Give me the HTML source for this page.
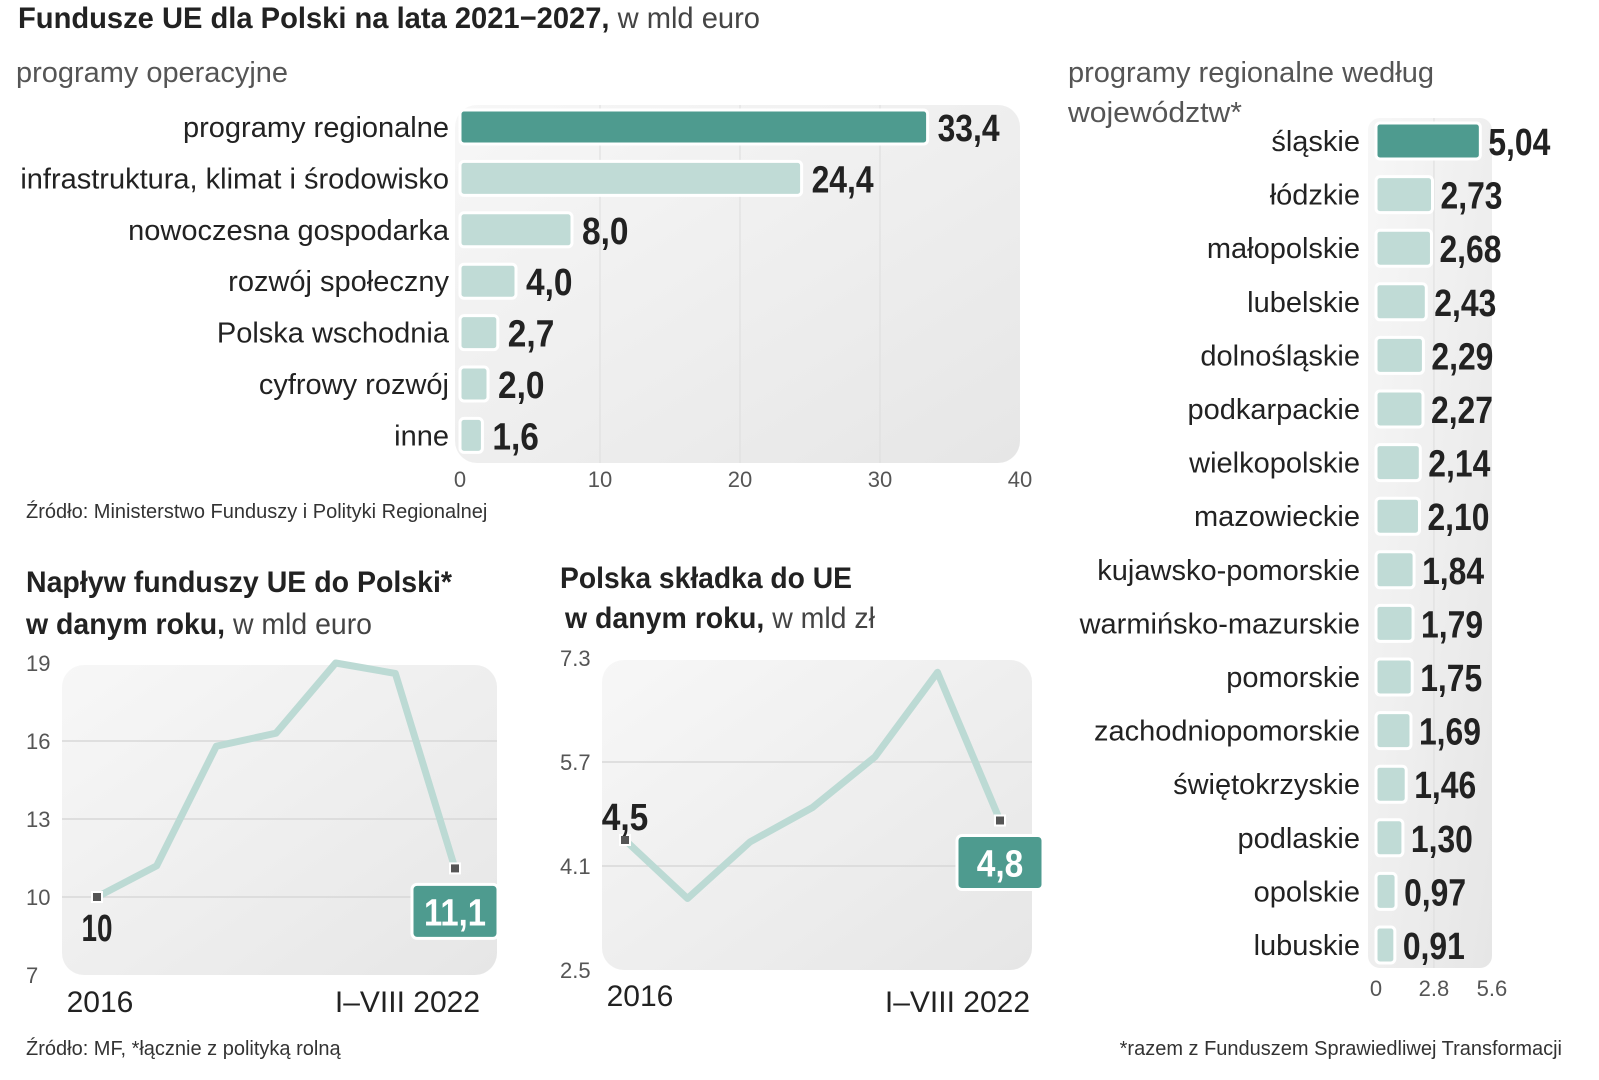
<!DOCTYPE html>
<html><head><meta charset="utf-8"><style>
html,body{margin:0;padding:0;background:#fff;width:1599px;height:1080px;overflow:hidden}
svg{display:block;font-family:"Liberation Sans",sans-serif}
.lbl{font-size:29px;fill:#222}
.val{font-family:"Liberation Sans Narrow","Liberation Sans",sans-serif;font-weight:bold;font-size:38px;fill:#222}
.tick{font-size:22px;fill:#555}
.ttl{font-family:"Liberation Sans Narrow","Liberation Sans",sans-serif;font-size:30px;fill:#222}
</style></head><body>
<svg id="s" width="1599" height="1080" viewBox="0 0 1599 1080" xmlns="http://www.w3.org/2000/svg">
<defs>
<linearGradient id="pg" x1="0" y1="0" x2="1" y2="1"><stop offset="0" stop-color="#f7f7f7"/><stop offset="1" stop-color="#e6e6e6"/></linearGradient>
</defs>
<text x="18" y="28" class="ttl" textLength="742" lengthAdjust="spacingAndGlyphs"><tspan font-weight="bold">Fundusze UE dla Polski na lata 2021−2027,</tspan><tspan fill="#444"> w mld euro</tspan></text>
<text x="16" y="82" font-size="29" fill="#555" textLength="272" lengthAdjust="spacingAndGlyphs">programy operacyjne</text>
<text x="1068" y="82" font-size="29" fill="#555" textLength="366" lengthAdjust="spacingAndGlyphs">programy regionalne według</text>
<text x="1068" y="122" font-size="29" fill="#555" textLength="174" lengthAdjust="spacingAndGlyphs">województw*</text>
<text x="26" y="518" font-size="20" fill="#333">Źródło: Ministerstwo Funduszy i Polityki Regionalnej</text>
<text x="26" y="592" class="ttl" font-weight="bold" textLength="426" lengthAdjust="spacingAndGlyphs">Napływ funduszy UE do Polski*</text>
<text x="26" y="634" class="ttl" textLength="346" lengthAdjust="spacingAndGlyphs"><tspan font-weight="bold">w danym roku,</tspan><tspan fill="#444"> w mld euro</tspan></text>
<text x="560" y="588" class="ttl" font-weight="bold" textLength="292" lengthAdjust="spacingAndGlyphs">Polska składka do UE</text>
<text x="565" y="628" class="ttl" textLength="310" lengthAdjust="spacingAndGlyphs"><tspan font-weight="bold">w danym roku,</tspan><tspan fill="#444"> w mld zł</tspan></text>
<text x="26" y="1055" font-size="20" fill="#333">Źródło: MF, *łącznie z polityką rolną</text>
<text x="1562" y="1055" font-size="20" fill="#333" text-anchor="end">*razem z Funduszem Sprawiedliwej Transformacji</text>
<g id="g1"></g><g id="g2"></g><g id="g3"></g><g id="g4"></g>
</svg>
<script>
const NS="http://www.w3.org/2000/svg";
function mk(p,t,a,txt){const e=document.createElementNS(NS,t);for(const k in a)e.setAttribute(k,a[k]);if(txt!==undefined)e.textContent=txt;p.appendChild(e);return e;}
const fmt=v=>v.toFixed(1).replace('.',',');
function vlen(s){return s.length*15.5;}

// Chart 1 data
const opCats=["programy regionalne","infrastruktura, klimat i środowisko","nowoczesna gospodarka","rozwój społeczny","Polska wschodnia","cyfrowy rozwój","inne"];
const opVals=[33.4,24.4,8.0,4.0,2.7,2.0,1.6];
const opTicks=[0,10,20,30,40];

// Chart 2 data
const regCats=["śląskie","łódzkie","małopolskie","lubelskie","dolnośląskie","podkarpackie","wielkopolskie","mazowieckie","kujawsko-pomorskie","warmińsko-mazurskie","pomorskie","zachodniopomorskie","świętokrzyskie","podlaskie","opolskie","lubuskie"];
const regVals=[5.04,2.73,2.68,2.43,2.29,2.27,2.14,2.10,1.84,1.79,1.75,1.69,1.46,1.30,0.97,0.91];
const regTicks=[0,2.8,5.6];

// Chart 3 data
const inYears=[2016,2017,2018,2019,2020,2021,2022];
const inVals=[10,11.2,15.8,16.3,19.0,18.6,11.1];
const inTicks=[7,10,13,16,19];

// Chart 4 data
const ctYears=[2016,2017,2018,2019,2020,2021,2022];
const ctVals=[4.5,3.6,4.47,5.0,5.78,7.08,4.8];
const ctTicks=[2.5,4.1,5.7,7.3];

// ---- Chart 1
(function(){
const g=document.getElementById('g1');
const x=v=>460+v*14; const y=i=>127+i*51.4;
const bg=mk(g,'rect',{x:455,y:105,width:565,height:358,rx:22,fill:'url(#pg)'});

opTicks.forEach(t=>{
 if(t>0&&t<40){const l=mk(g,'line',{x1:x(t),x2:x(t),y1:105,y2:463,stroke:'#ddd','stroke-width':1});}
 const tx=mk(g,'text',{x:x(t),y:487,'text-anchor':'middle',class:'tick'},String(t));
 
});
opCats.forEach((c,i)=>{
 const r=mk(g,'rect',{x:x(0),y:y(i)-17,width:x(opVals[i])-x(0),height:34,rx:4,fill:i==0?'#4e9b8f':'#c0dbd6',stroke:'#fff','stroke-width':3});
 
 const l=mk(g,'text',{x:449,y:y(i)+10,'text-anchor':'end',class:'lbl'},c);
 
 const s=fmt(opVals[i]);
 const v=mk(g,'text',{x:x(opVals[i])+10,y:y(i)+14,class:'val',textLength:vlen(s),lengthAdjust:'spacingAndGlyphs'},s);
 
});
})();

// ---- Chart 2
(function(){
const g=document.getElementById('g2');
const x=v=>1376+v*20.7; const y=i=>141+i*53.6;
const bg=mk(g,'rect',{x:1368,y:118,width:124,height:850,rx:12,fill:'url(#pg)'});

const gl=mk(g,'line',{x1:x(2.8),x2:x(2.8),y1:118,y2:968,stroke:'#ddd'});

regTicks.forEach(t=>{
 const tx=mk(g,'text',{x:x(t),y:996,'text-anchor':'middle',class:'tick'},String(t));
 
});
regCats.forEach((c,i)=>{
 const r=mk(g,'rect',{x:x(0),y:y(i)-18,width:x(regVals[i])-x(0),height:36,rx:4,fill:i==0?'#4e9b8f':'#c0dbd6',stroke:'#fff','stroke-width':3});
 
 const l=mk(g,'text',{x:1360,y:y(i)+10,'text-anchor':'end',class:'lbl'},c);
 
 const s=regVals[i].toFixed(2).replace('.',',');
 const v=mk(g,'text',{x:x(regVals[i])+8,y:y(i)+14,class:'val',textLength:vlen(s),lengthAdjust:'spacingAndGlyphs'},s);
 
});
})();

function lineChart(gid,years,vals,ticks,px0,px1,x0,x1,ymin,ymax,yTop,yBot,tickX,pre,firstLbl,lastLbl,fx,fy,lx,ly){
 const g=document.getElementById(gid);
 const x=i=>x0+i*(x1-x0)/(years.length-1);
 const y=v=>yBot-(v-ymin)*(yBot-yTop)/(ymax-ymin);
 const bg=mk(g,'rect',{x:px0,y:y(ymax)+2,width:px1-px0,height:yBot-y(ymax)-2,rx:22,fill:'url(#pg)'});
 
 ticks.forEach(t=>{
  if(t>ymin&&t<ymax){const l=mk(g,'line',{x1:px0,x2:px1,y1:y(t),y2:y(t),stroke:'#d8d8d8','stroke-width':1.5});}
  const tx=mk(g,'text',{x:tickX,y:y(t)+8,class:'tick'},String(t));
  
 });
 const pl=mk(g,'polyline',{points:vals.map((v,i)=>x(i)+','+y(v)).join(' '),fill:'none',stroke:'#bcdad4','stroke-width':7,'stroke-linejoin':'round'});
 
 [0,vals.length-1].forEach(i=>{
  const m=mk(g,'rect',{x:x(i)-5,y:y(vals[i])-5,width:10,height:10,fill:'#555',stroke:'#fff','stroke-width':2});
  
 });
 const s1=firstLbl(vals[0]);
 const a=mk(g,'text',{x:x(0)+fx,y:y(vals[0])+fy,class:'val','text-anchor':'middle',textLength:vlen(s1),lengthAdjust:'spacingAndGlyphs'},s1);
 
 const n=vals.length-1;
 const bx=mk(g,'rect',{x:x(n)+lx-43,y:y(vals[n])+ly-27,width:86,height:54,rx:5,fill:'#4e9b8f',stroke:'#fff','stroke-width':3});
 
 const s2=lastLbl(vals[n]);
 const b=mk(g,'text',{x:x(n)+lx,y:y(vals[n])+ly+14,class:'val','text-anchor':'middle',style:'fill:#fff',textLength:vlen(s2),lengthAdjust:'spacingAndGlyphs'},s2);
 
}
function xl(g,pre,x,y,t,anchor){const e=mk(g,'text',{x:x,y:y,'text-anchor':anchor,'font-size':30,fill:'#222'},t);}
lineChart('g3',inYears,inVals,inTicks,62,497,97,455,7,19,663,975,26,'inflow',v=>String(v),v=>fmt(v),0,44,0,43);
xl(document.getElementById('g3'),'inflow-x-label-start',100,1012,'2016','middle');
xl(document.getElementById('g3'),'inflow-x-label-end',480,1012,'I–VIII 2022','end');
lineChart('g4',ctYears,ctVals,ctTicks,602,1032,625,1000,2.5,7.3,658,970,560,'contrib',v=>fmt(v),v=>fmt(v),0,-10,0,42);
xl(document.getElementById('g4'),'contrib-x-label-start',640,1006,'2016','middle');
xl(document.getElementById('g4'),'contrib-x-label-end',1030,1012,'I–VIII 2022','end');
</script>
</body></html>
